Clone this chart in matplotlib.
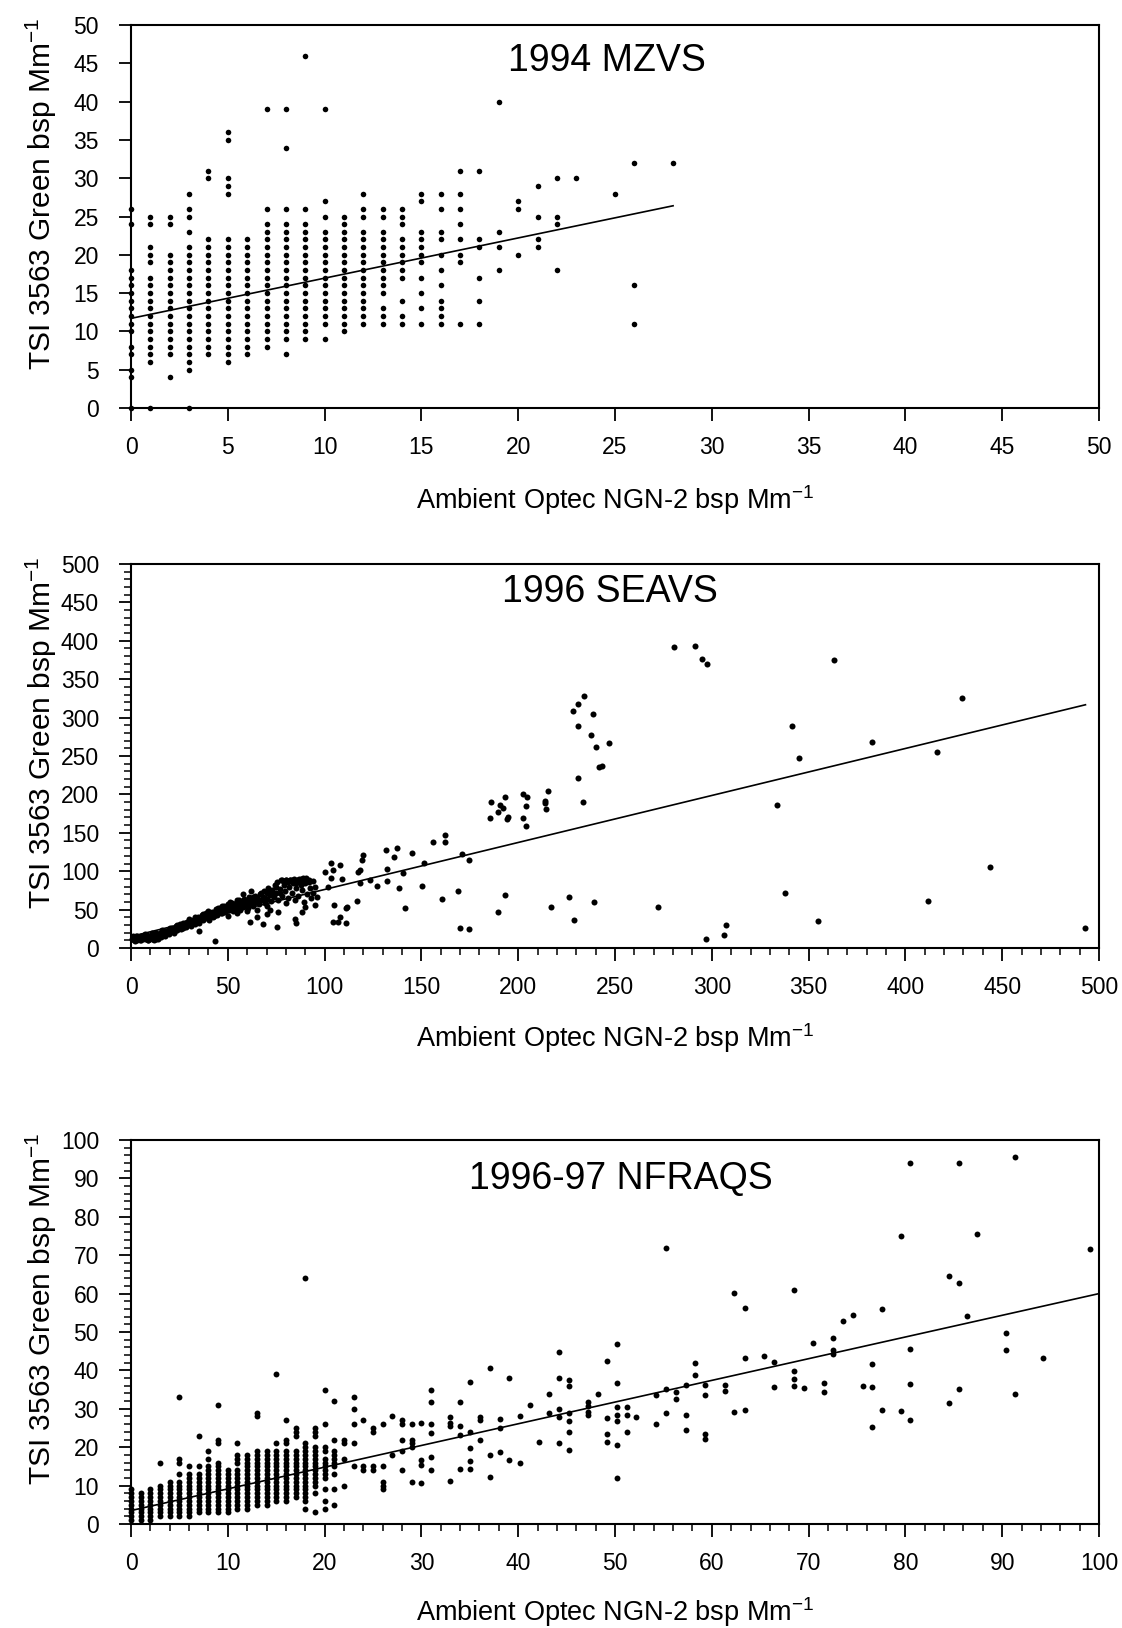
import matplotlib
matplotlib.use("Agg")
import matplotlib.pyplot as plt
from matplotlib.ticker import MultipleLocator

plt.rcParams['font.family'] = ['Liberation Sans', 'DejaVu Sans']
plt.rcParams['mathtext.fontset'] = 'custom'
plt.rcParams['mathtext.rm'] = 'Liberation Sans'
plt.rcParams['mathtext.it'] = 'Liberation Sans'
plt.rcParams['mathtext.default'] = 'regular'

# ---------------- Panel 1: 1994 MZVS (integer readings) ----------------
mzvs_col_x = [0, 1, 2, 3, 4, 5, 6, 7, 8, 9, 10, 11, 12, 13, 14, 15, 16, 17, 18,
              19, 20, 21, 22, 23, 25, 26, 28]
mzvs_col_y = [
    [0, 4, 5, 7, 8, 10, 11, 12, 13, 14, 15, 16, 17, 18, 24, 26],
    [0, 6, 7, 8, 9, 10, 11, 12, 13, 14, 15, 16, 17, 19, 20, 21, 24, 25],
    [4, 7, 8, 9, 10, 11, 12, 13, 14, 15, 16, 17, 18, 19, 20, 24, 25],
    [0, 5, 6, 7, 8, 9, 10, 11, 12, 13, 14, 15, 16, 17, 18, 19, 20, 21, 23, 25, 26, 28],
    [7, 8, 9, 10, 11, 12, 13, 14, 15, 16, 17, 18, 19, 20, 21, 22, 30, 31],
    [6, 7, 8, 9, 10, 11, 12, 13, 14, 15, 16, 17, 18, 19, 20, 21, 22, 28, 29, 30, 35, 36],
    [7, 8, 9, 10, 11, 12, 13, 14, 15, 16, 17, 18, 19, 20, 21, 22],
    [8, 9, 10, 11, 12, 13, 14, 15, 16, 17, 18, 19, 20, 21, 22, 23, 24, 26, 39],
    [7, 9, 10, 11, 12, 13, 14, 15, 16, 17, 18, 19, 20, 21, 22, 23, 24, 26, 34, 39],
    [9, 10, 11, 12, 13, 14, 15, 16, 17, 18, 19, 20, 21, 22, 23, 24, 26, 46],
    [9, 11, 12, 13, 14, 15, 16, 17, 18, 19, 20, 21, 22, 23, 25, 27, 39],
    [10, 11, 12, 13, 14, 15, 16, 17, 18, 19, 20, 21, 22, 23, 24, 25],
    [11, 12, 13, 14, 15, 16, 17, 18, 19, 20, 21, 22, 23, 25, 26, 28],
    [11, 12, 13, 15, 16, 17, 18, 19, 20, 21, 22, 23, 25, 26],
    [11, 12, 14, 17, 18, 19, 20, 21, 22, 24, 25, 26],
    [11, 13, 15, 17, 19, 20, 21, 22, 23, 27, 28],
    [11, 12, 13, 14, 16, 18, 20, 22, 23, 26, 28],
    [11, 19, 20, 22, 24, 26, 28, 31],
    [11, 14, 17, 21, 22, 31],
    [18, 21, 23, 40],
    [20, 26, 27],
    [21, 22, 25, 29],
    [18, 24, 25, 30],
    [30],
    [28],
    [11, 16, 32],
    [32],
]
mzvs_fit = {"intercept": 11.7, "slope": 0.525, "x_end": 28}

# ---------------- Panel 2: 1996 SEAVS ----------------
seavs_cluster_x = [0.5, 1, 1.5, 2, 2.5, 3, 4, 4.5, 5, 6, 6.5, 7, 8, 8.5, 9, 10, 10.5, 11, 12, 12.5,
                   13, 14, 15, 15.5, 16, 17, 17.5, 18, 19, 19.5, 20, 21, 22, 22.5, 23, 24, 25, 25.5,
                   26, 27, 28, 28.5, 29, 30, 31, 31.5, 32, 33, 34, 34.5, 35, 36, 36.5, 37, 38, 38.5,
                   39, 40, 40.5, 41, 42, 42.5, 43, 44, 44.5, 45, 46, 46.5, 47, 48, 48.5, 49, 50, 50.5,
                   51, 52, 52.5, 53, 54, 54.5, 55, 56, 56.5, 57, 58, 58.5, 59, 60, 60.5, 61, 62, 62.5,
                   63, 64, 64.5, 65, 66, 66.5, 67, 68, 68.5, 69, 70, 70.5, 71, 72, 72.5, 73, 74, 74.5,
                   75, 75.5, 76, 77, 77.5, 78, 79, 79.5, 80, 81, 81.5, 82, 83, 83.5, 84, 84.5, 85, 86,
                   86.5, 87, 88, 88.5, 89, 89.5, 90, 90.5, 91, 92, 92.5, 93,
                   2, 5, 9, 12, 14, 3, 7, 11, 16, 20, 24, 27, 30, 33, 37, 40, 44, 47, 51, 55, 58, 62,
                   1, 3, 5, 7, 9, 11, 13, 15, 17, 19, 21, 23, 25, 27, 29, 31, 33, 35, 37, 39, 41, 43,
                   45, 47, 49, 51, 53, 55, 57, 59, 61, 63, 65, 67, 69, 71, 73, 75, 77, 79, 81, 83, 85,
                   87, 89, 91,
                   50, 55, 60, 65, 70, 72, 80, 76, 78, 80, 82, 84, 86, 88, 90, 92, 94, 94, 95, 96]
seavs_cluster_y = [12, 14, 11, 13, 15, 12, 14, 11, 16, 13, 15, 12, 14, 17, 11, 15, 13, 17, 14, 18,
                   12, 16, 20, 14, 18, 22, 16, 20, 24, 18, 22, 26, 20, 25, 28, 23, 27, 31,
                   25, 29, 33, 27, 31, 35, 29, 33, 37, 31, 35, 40, 33, 38, 43, 36, 41, 46,
                   39, 44, 37, 42, 47, 40, 45, 50, 43, 48, 52, 45, 50, 55, 47, 53, 57, 50,
                   54, 59, 48, 56, 52, 60, 55, 62, 50, 58, 54, 64, 57, 61, 52, 66, 58, 63,
                   55, 68, 60, 65, 57, 70, 62, 67, 74, 59, 72, 64, 78, 69, 61, 75, 66, 82,
                   71, 86, 63, 77, 88, 68, 86, 74, 89, 65, 80, 88, 72, 85, 90, 62, 78, 87,
                   68, 90, 82, 75, 88, 60, 84, 91, 70, 86, 78, 65,
                   9, 10, 10, 11, 12, 16, 18, 19, 23, 26, 30, 33, 38, 40, 44, 48, 51, 55, 60, 63, 70, 74,
                   16, 10, 13, 17, 14, 12, 19, 16, 19, 21, 23, 24, 29, 26, 34, 32, 38, 36, 41, 42, 45, 42,
                   52, 46, 50, 58, 52, 60, 53, 63, 56, 66, 62, 72, 65, 73, 70, 80, 72, 82, 86, 88, 84,
                   86, 91, 88,
                   42, 45, 48, 50, 55, 50, 58, 47, 88, 88, 89, 89, 89, 90, 88, 89, 87, 72, 80, 67]
seavs_scatter_x = [43.4, 35.1, 61.5, 68.4, 75.2, 65.3, 70.1, 84.7, 85.0, 88.2, 90.0, 95.0, 100.2, 103.1,
                   104.5, 107.9, 108.8, 103.1, 101.9, 104.9, 104.5, 107.1, 108, 110.9, 111.4, 110.9,
                   116.9, 117.4, 118.3, 119.1, 120, 118.3, 123.4, 126.9, 131.5, 132, 132, 135.8, 137.2,
                   138.6, 140.6, 141.5, 145, 150.1, 151.5, 156.2, 162.2, 162.2, 160.4, 169, 169.9, 174.7,
                   171.2, 174.7,
                   186.0, 185.4, 189.5, 190.5, 192.1, 193.0, 194.1, 194.9, 202.7, 204.3, 204.1, 202.7,
                   204.1, 214.0, 214.4, 215.6, 213.6, 228.5, 231.1, 234.2, 231.0, 238.5, 237.5, 240.1,
                   241.5, 243.1, 246.9, 231.1, 233.6, 280.7, 291.2, 294.8, 297.7, 363.3, 341.6, 344.9,
                   382.5, 429.4, 416.4, 333.5, 443.7, 492.6, 338.0, 411.5, 354.9, 307.3, 306.5, 297.2,
                   272.2, 239.1, 228.9, 226.0, 217.2, 193.1, 189.7]
seavs_scatter_y = [9.1, 22, 34.3, 30.8, 27.8, 40.8, 43.8, 37.3, 32.2, 47.3, 53.8, 56, 99.4, 111.1,
                   101.6, 108.1, 89.4, 91.2, 79.9, 56, 34.3, 34.3, 40, 33, 53.8, 51.6,
                   61.2, 99.4, 101.6, 114.6, 121.1, 84.2, 88.5, 80.7, 127.6, 102.4, 86.8, 118.9, 129.7,
                   78.5, 97.2, 52.5, 123.3, 80.7, 110.2, 138.4, 147.1, 138.4, 63.4, 74.7, 26.4, 24.7,
                   122.8, 114.6,
                   190.5, 169.7, 177.5, 186.5, 182.2, 196.1, 167.6, 171.0, 199.9, 196.0, 184.7, 169.7,
                   159.3, 191.4, 180.6, 204.8, 188.3, 309.0, 317.3, 328.1, 288.6, 305.1, 276.9, 262.1,
                   236.1, 237.4, 266.9, 221.4, 190.5, 391.5, 393.6, 376.3, 369.8, 375.4, 288.6, 247.0,
                   268.6, 325.5, 255.2, 185.8, 105.5, 26.4, 71.2, 61.6, 34.7, 30.4, 17.4, 11.3,
                   53.8, 59.5, 36.5, 66.4, 53.8, 69.4, 46.9]
seavs_fit = {"intercept": 15.0, "slope": 0.612, "x_end": 493}

# ---------------- Panel 3: 1996-97 NFRAQS ----------------
nfraqs_col_x = list(range(0, 30))
nfraqs_col_y = [
    [1, 2, 3, 4, 5, 6, 7, 8, 9],
    [1, 2, 3, 4, 5, 6, 7, 8],
    [1, 2, 3, 4, 5, 6, 7, 8, 9],
    [2, 3, 4, 5, 6, 7, 8, 9, 10, 16],
    [2, 3, 4, 5, 6, 7, 8, 9, 10, 11],
    [2, 3, 4, 5, 6, 7, 8, 9, 10, 11, 13, 16, 17, 33],
    [2, 3, 4, 5, 6, 7, 8, 9, 10, 11, 12, 13, 15],
    [3, 4, 5, 6, 7, 8, 9, 10, 11, 12, 13, 15, 23],
    [3, 4, 5, 6, 7, 8, 9, 10, 11, 12, 13, 14, 15, 17, 19],
    [3, 4, 5, 6, 7, 8, 9, 10, 11, 12, 13, 14, 15, 16, 21, 22, 31],
    [3, 4, 5, 6, 7, 8, 9, 10, 11, 12, 13, 14],
    [4, 5, 6, 7, 8, 9, 10, 11, 12, 13, 14, 16, 17, 18, 21],
    [4, 5, 6, 7, 8, 9, 10, 11, 12, 13, 14, 15, 16, 17, 18],
    [5, 6, 7, 8, 9, 10, 11, 12, 13, 14, 15, 16, 17, 18, 19, 28, 29],
    [5, 6, 7, 8, 9, 10, 11, 12, 13, 14, 15, 16, 17, 18, 19],
    [6, 7, 8, 9, 10, 11, 12, 13, 14, 15, 16, 17, 18, 19, 21, 39],
    [6, 7, 8, 9, 10, 11, 12, 13, 14, 15, 16, 17, 18, 19, 21, 22, 27],
    [7, 8, 9, 10, 11, 12, 13, 14, 15, 16, 17, 18, 19, 23, 24, 25],
    [4, 6, 7, 8, 9, 10, 11, 12, 13, 14, 15, 16, 17, 18, 19, 20, 21, 64],
    [3, 8, 10, 11, 12, 13, 14, 15, 16, 17, 18, 19, 20, 23, 24, 25],
    [4, 6, 9, 12, 13, 14, 15, 16, 17, 19, 20, 26, 35],
    [5, 9, 13, 15, 16, 17, 18, 19, 22, 32],
    [10, 17, 21, 22],
    [15, 21, 26, 30, 33],
    [14, 15, 27],
    [14, 15, 24, 25],
    [9, 10, 11, 15, 26],
    [18, 28],
    [14, 19, 22, 26, 27],
    [11, 20, 21, 22, 26],
]
nfraqs_scatter_x = [30.0, 30.0, 30.0, 30.0, 31.0, 31.0, 31.0, 31.0, 31.0, 31.0, 33.0, 33.0, 33.0, 33.0,
                    34.0, 34.0, 34.0, 34.0, 35.0, 35.0, 35.0, 35.0, 35.0, 36.1, 36.1, 36.1, 37.1, 37.1,
                    37.1, 38.1, 38.1, 38.1, 39.1, 39.1, 40.2, 40.2, 41.2, 42.2, 43.2, 43.2, 44.2, 44.2,
                    44.2, 44.2, 44.2, 45.2, 45.2, 45.2, 45.2, 45.2, 45.2, 47.2, 47.2, 47.2, 47.2, 48.2,
                    49.2, 49.2, 49.2, 49.2, 50.2, 50.2, 50.2, 50.2, 50.2, 50.2, 50.2, 51.2, 51.2, 51.2,
                    52.2, 54.2, 54.2, 55.3, 55.3, 55.3, 56.3, 56.3, 57.3, 57.3, 57.3, 58.3, 58.3, 59.3,
                    59.3, 59.3, 59.3, 61.4, 61.4,
                    62.3, 62.3, 63.4, 63.4, 63.4, 65.4, 66.4, 66.4, 68.5, 68.5, 68.5, 68.5, 69.5, 70.5,
                    71.6, 71.6, 72.5, 72.5, 72.5, 73.6, 74.6, 75.6, 76.6, 76.6, 76.6, 77.6, 77.6, 79.5,
                    79.5, 80.5, 80.5, 80.5, 80.5, 84.5, 85.5, 84.5, 85.5, 85.5, 86.4, 87.4, 90.4, 90.4,
                    91.3, 91.3, 94.2, 99.1]
nfraqs_scatter_y = [26.4, 16.7, 15.4, 10.8, 34.9, 31.7, 26.0, 23.8, 17.5, 14.1, 27.9, 26.3, 25.4, 11.2,
                    31.7, 25.4, 23.2, 14.2, 37.1, 24.0, 19.7, 16.5, 14.2, 27.8, 27.1, 21.8, 40.5, 17.9,
                    12.3, 27.3, 25.0, 18.7, 37.9, 16.7, 28.1, 15.9, 30.9, 21.3, 33.9, 29.0, 44.9, 38.1,
                    29.9, 27.8, 21.1, 37.4, 36.0, 29.0, 26.9, 24.0, 19.3, 31.9, 30.6, 29.2, 28.4, 33.8,
                    42.4, 27.5, 23.5, 21.3, 46.8, 36.7, 30.5, 28.4, 26.7, 20.6, 12.0, 30.5, 28.4, 24.0,
                    27.8, 33.5, 26.0, 71.8, 35.2, 29.0, 34.3, 32.6, 36.2, 28.4, 24.5, 41.8, 38.8, 36.2,
                    33.5, 23.5, 22.1, 36.2, 34.6,
                    60.1, 29.1, 29.7, 56.3, 43.1, 43.8, 42.3, 35.8, 60.9, 39.9, 37.7, 36.0, 35.4, 47.1,
                    36.8, 34.5, 48.4, 45.2, 44.3, 52.9, 54.4, 36.0, 41.7, 35.8, 25.2, 56.0, 29.8, 75.0,
                    29.4, 94.1, 45.5, 36.4, 27.1, 64.6, 62.8, 31.6, 94.1, 35.1, 54.2, 75.6, 49.7, 45.3,
                    33.8, 95.7, 43.3, 71.6]
nfraqs_fit = {"intercept": 3.5, "slope": 0.565, "x_end": 100}

titles = ["1994 MZVS", "1996 SEAVS", "1996-97 NFRAQS"]
xlabel = "Ambient Optec NGN-2 bsp Mm$^{-1}$"
ylabel = "TSI 3563 Green bsp Mm$^{-1}$"


def flatten(col_x, col_y):
    xs, ys = [], []
    for x, col in zip(col_x, col_y):
        for y in col:
            xs.append(x)
            ys.append(y)
    return xs, ys


W, H = 1122, 1628
fig = plt.figure(figsize=(W / 100, H / 100), dpi=100)

left = 131 / W
width = 968 / W
panels = [
    # (top px, bottom px)
    (25, 408),
    (564, 948),
    (1140, 1524),
]
axes = []
for top, bot in panels:
    ax = fig.add_axes([left, 1 - bot / H, width, (bot - top) / H])
    axes.append(ax)

mz_x, mz_y = flatten(mzvs_col_x, mzvs_col_y)
nf_cx, nf_cy = flatten(nfraqs_col_x, nfraqs_col_y)

data = [
    (mz_x, mz_y, mzvs_fit, 50, 5, None, None, 16),
    (seavs_cluster_x + seavs_scatter_x, seavs_cluster_y + seavs_scatter_y, seavs_fit, 500, 50, 10, 10, 19),
    (nf_cx + nfraqs_scatter_x, nf_cy + nfraqs_scatter_y, nfraqs_fit, 100, 10, 2, 2, 18),
]
title_pos = [(0.492, 0.906), (0.495, 0.926), (0.506, 0.898)]
xlabel_off = [-0.24, -0.234, -0.229]

for i, ax in enumerate(axes):
    xs, ys, fit, lim, major, minor_x, minor_y, msize = data[i]
    ax.scatter(xs, ys, s=msize, c='black', linewidths=0, clip_on=False, zorder=3)
    x_end = fit["x_end"]
    ax.plot([0, x_end], [fit["intercept"], fit["intercept"] + fit["slope"] * x_end],
            color='black', lw=1.2, zorder=4)
    ax.set_xlim(0, lim)
    ax.set_ylim(0, lim)
    ax.xaxis.set_major_locator(MultipleLocator(major))
    ax.yaxis.set_major_locator(MultipleLocator(major))
    if minor_x:
        ax.xaxis.set_minor_locator(MultipleLocator(minor_x))
        ax.yaxis.set_minor_locator(MultipleLocator(minor_y))
    ax.tick_params(which='major', direction='out', length=9, width=1.3,
                   labelsize=16.5, colors='black')
    ax.tick_params(axis='x', which='major', pad=11)
    ax.tick_params(axis='y', which='major', pad=14)
    ax.tick_params(which='minor', direction='out', length=5, width=1.1)
    for sp in ax.spines.values():
        sp.set_linewidth(1.5)
    ax.text(title_pos[i][0], title_pos[i][1], titles[i], transform=ax.transAxes,
            ha='center', va='center', fontsize=27)
    ax.set_xlabel(xlabel, fontsize=19.5)
    ax.xaxis.label.set_va('center')
    ax.xaxis.set_label_coords(0.5, xlabel_off[i])
    ax.set_ylabel(ylabel, fontsize=21.5)
    ax.yaxis.label.set_va('center')
    ax.yaxis.set_label_coords(-0.093, 0.56)

fig.savefig("out.png", dpi=100, facecolor='white')
